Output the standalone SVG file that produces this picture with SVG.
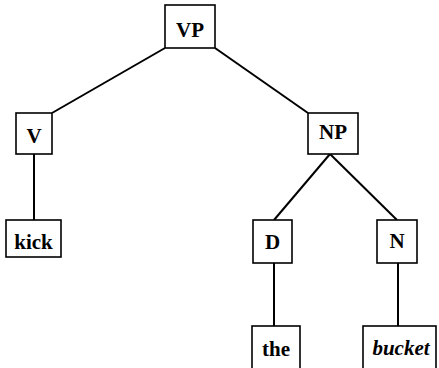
<svg xmlns="http://www.w3.org/2000/svg" width="439" height="368" viewBox="0 0 439 368">
<style>
.box{fill:#fff;stroke:#000;stroke-width:1.6}
.t{font-family:"Liberation Serif","Times New Roman",serif;font-size:21px;text-anchor:middle;fill:#000}
.cat{font-weight:bold}
.w{font-weight:bold}
.it{font-style:italic;font-weight:bold}
.edge{stroke:#000;stroke-width:2;fill:none}
</style>
<rect width="439" height="368" fill="#fff"/>
<g id="connectors">
<line class="edge" x1="165" y1="48" x2="52" y2="113"/>
<line class="edge" x1="215" y1="48" x2="308" y2="113"/>
<line class="edge" x1="34" y1="154" x2="34" y2="220"/>
<line class="edge" x1="330" y1="154" x2="274" y2="220"/>
<line class="edge" x1="330" y1="154" x2="397" y2="220"/>
<line class="edge" x1="274" y1="263" x2="274" y2="326"/>
<line class="edge" x1="398" y1="263" x2="398" y2="326"/>
</g>
<g id="VP"><rect class="box" x="165" y="5" width="50" height="43"/><text class="t cat" x="190" y="37">VP</text></g>
<g id="V"><rect class="box" x="16" y="113" width="36" height="41"/><text class="t cat" x="34" y="143">V</text></g>
<g id="kick"><rect class="box" x="6" y="220" width="55" height="37"/><text class="t w" x="33.5" y="249">kick</text></g>
<g id="NP"><rect class="box" x="308" y="113" width="50" height="41"/><text class="t cat" x="333" y="139">NP</text></g>
<g id="D"><rect class="box" x="253" y="220" width="39" height="43"/><text class="t cat" x="272.5" y="249">D</text></g>
<g id="N"><rect class="box" x="377" y="220" width="40" height="43"/><text class="t cat" x="397" y="248">N</text></g>
<g id="the"><rect class="box" x="252" y="326" width="48" height="50"/><text class="t w" x="276" y="356">the</text></g>
<g id="bucket"><rect class="box" x="363" y="326" width="73" height="50"/><text class="t it" x="401" y="355">bucket</text></g>
</svg>
